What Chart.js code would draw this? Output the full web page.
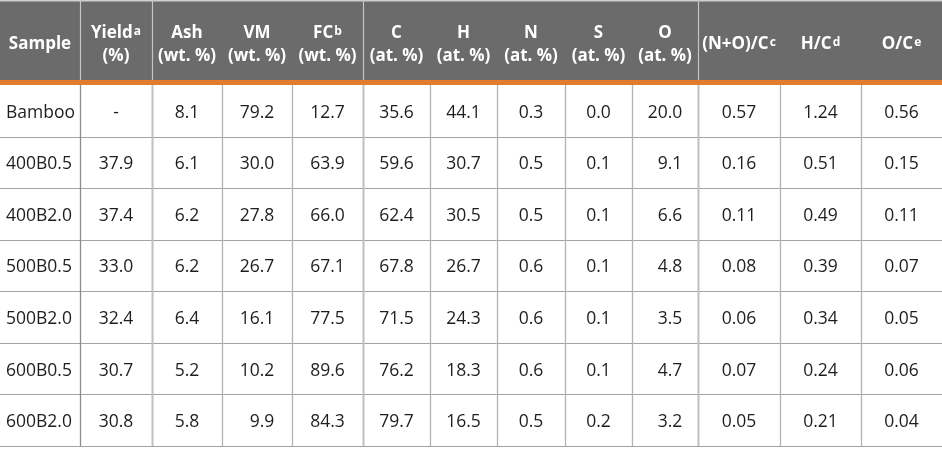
<!DOCTYPE html>
<html>
<head>
<meta charset="utf-8">
<script src="https://cdn.jsdelivr.net/npm/chart.js@4.4.1/dist/chart.umd.min.js"></script>
<style>
  html, body { margin: 0; padding: 0; background: #ffffff; }
  #wrap { width: 942px; height: 461px; position: relative; }
</style>
</head>
<body>
<div id="wrap"><canvas id="tableChart"></canvas></div>
<script>
// table data
const samples   = ['Bamboo', '400B0.5', '400B2.0', '500B0.5', '500B2.0', '600B0.5', '600B2.0'];
const yieldPct  = [null, 37.9, 37.4, 33.0, 32.4, 30.7, 30.8];
const ash       = [8.1, 6.1, 6.2, 6.2, 6.4, 5.2, 5.8];
const vm        = [79.2, 30.0, 27.8, 26.7, 16.1, 10.2, 9.9];
const fc        = [12.7, 63.9, 66.0, 67.1, 77.5, 89.6, 84.3];
const carbon    = [35.6, 59.6, 62.4, 67.8, 71.5, 76.2, 79.7];
const hydrogen  = [44.1, 30.7, 30.5, 26.7, 24.3, 18.3, 16.5];
const nitrogen  = [0.3, 0.5, 0.5, 0.6, 0.6, 0.6, 0.5];
const sulfur    = [0.0, 0.1, 0.1, 0.1, 0.1, 0.1, 0.2];
const oxygen    = [20.0, 9.1, 6.6, 4.8, 3.5, 4.7, 3.2];
const nPlusOtoC = [0.57, 0.16, 0.11, 0.08, 0.06, 0.07, 0.05];
const hToC      = [1.24, 0.51, 0.49, 0.39, 0.34, 0.24, 0.21];
const oToC      = [0.56, 0.15, 0.11, 0.07, 0.05, 0.06, 0.04];

// column headers
const headerTitles = ['Sample', 'Yield', 'Ash', 'VM', 'FC', 'C', 'H', 'N', 'S', 'O', '(N+O)/C', 'H/C', 'O/C'];
const headerUnits  = ['', '(%)', '(wt. %)', '(wt. %)', '(wt. %)', '(at. %)', '(at. %)', '(at. %)', '(at. %)', '(at. %)', '', '', ''];
const headerSups   = ['', 'a', '', '', 'b', '', '', '', '', '', 'c', 'd', 'e'];

// layout
const colWidths = [80, 72, 70, 70, 71, 67, 67, 68, 67, 66, 82, 81, 81];
const groupEdges = [1, 2, 5, 10];
const HEADER_H = 80;
const ORANGE_H = 5;

const valueCols = [
  { values: yieldPct, digits: 1 },
  { values: ash, digits: 1 },
  { values: vm, digits: 1 },
  { values: fc, digits: 1 },
  { values: carbon, digits: 1 },
  { values: hydrogen, digits: 1 },
  { values: nitrogen, digits: 1 },
  { values: sulfur, digits: 1 },
  { values: oxygen, digits: 1 },
  { values: nPlusOtoC, digits: 2 },
  { values: hToC, digits: 2 },
  { values: oToC, digits: 2 }
];

const colEdges = [0];
colWidths.forEach(w => colEdges.push(colEdges[colEdges.length - 1] + w));

const FONT = '"Open Sans", "Noto Sans", sans-serif';

const tablePlugin = {
  id: 'tablePlugin',
  afterDraw(chart) {
    const c = chart.ctx;
    const xs = chart.scales.x;
    const ys = chart.scales.y;
    const xAt = i => xs.getPixelForValue(colEdges[i]);
    const band = (ys.bottom - ys.top) / samples.length;
    const rowMid = i => ys.getPixelForValue(i);
    const left = xAt(0);
    const full = xAt(colEdges.length - 1) - left;

    c.save();

    // header block
    c.fillStyle = '#6b6b6b';
    c.fillRect(left, 0, full, HEADER_H);
    c.fillStyle = '#cfcfcf';
    c.fillRect(left, 0, full, 1.5);
    c.fillStyle = '#e27b2e';
    c.fillRect(left, HEADER_H, full, ORANGE_H);

    c.strokeStyle = '#c4c4c4';
    c.lineWidth = 1.2;
    groupEdges.forEach(i => {
      const x = Math.round(xAt(i)) + 0.5;
      c.beginPath();
      c.moveTo(x, 0);
      c.lineTo(x, HEADER_H);
      c.stroke();
    });

    // header text
    c.fillStyle = '#ffffff';
    c.textBaseline = 'alphabetic';
    c.textAlign = 'left';
    headerTitles.forEach((t, i) => {
      const cx = (xAt(i) + xAt(i + 1)) / 2;
      const twoLine = headerUnits[i] !== '';
      const y1 = twoLine ? 38 : 49;
      c.font = 'bold 17px ' + FONT;
      const wMain = c.measureText(t).width;
      c.font = 'bold 12px ' + FONT;
      const wSup = headerSups[i] ? c.measureText(headerSups[i]).width + 1 : 0;
      const x0 = cx - (wMain + wSup) / 2;
      c.font = 'bold 17px ' + FONT;
      c.fillText(t, x0, y1);
      if (headerSups[i]) {
        c.font = 'bold 12px ' + FONT;
        c.fillText(headerSups[i], x0 + wMain + 1, y1 - 3);
      }
      if (twoLine) {
        c.font = 'bold 17px ' + FONT;
        c.textAlign = 'center';
        c.fillText(headerUnits[i], cx, 61);
        c.textAlign = 'left';
      }
    });

    // grid lines
    c.strokeStyle = '#a3a3a3';
    c.lineWidth = 1.2;
    for (let r = 0; r < samples.length; r++) {
      const y = Math.round(rowMid(r) + band / 2) + 0.5;
      c.beginPath();
      c.moveTo(left, y);
      c.lineTo(left + full, y);
      c.stroke();
    }
    for (let i = 1; i < colEdges.length - 1; i++) {
      const x = Math.round(xAt(i)) + 0.5;
      const isGroup = groupEdges.includes(i) && i !== 1;
      c.strokeStyle = isGroup ? '#c0c0c0' : (i === 1 ? '#8c8c8c' : '#b3b3b3');
      c.lineWidth = isGroup ? 2 : 1.3;
      c.beginPath();
      c.moveTo(x, ys.top);
      c.lineTo(x, ys.bottom);
      c.stroke();
    }

    // body text
    c.fillStyle = '#1e1e1e';
    c.font = '17.5px ' + FONT;
    c.textBaseline = 'middle';
    samples.forEach((s, r) => {
      c.textAlign = 'left';
      c.fillText(s, left + 6, rowMid(r) + 2);
    });
    valueCols.forEach((col, k) => {
      const i = k + 1;
      const cx = (xAt(i) + xAt(i + 1)) / 2;
      const texts = col.values.map(v => v === null ? '-' : v.toFixed(col.digits));
      const maxW = Math.max(...texts.map(t => c.measureText(t).width));
      texts.forEach((t, r) => {
        if (t === '-') {
          c.textAlign = 'center';
          c.fillText(t, cx, rowMid(r) + 2);
        } else {
          c.textAlign = 'right';
          c.fillText(t, cx + maxW / 2, rowMid(r) + 2);
        }
      });
    });

    c.restore();
  }
};

new Chart(document.getElementById('tableChart'), {
  type: 'scatter',
  data: { datasets: [] },
  options: {
    responsive: true,
    maintainAspectRatio: false,
    animation: false,
    events: [],
    layout: {
      padding: { top: HEADER_H + ORANGE_H, bottom: 15, left: 0, right: 0 }
    },
    plugins: {
      legend: { display: false },
      tooltip: { enabled: false }
    },
    scales: {
      x: {
        type: 'linear',
        min: 0,
        max: colEdges[colEdges.length - 1],
        display: false
      },
      y: {
        type: 'category',
        labels: samples,
        offset: true,
        display: false
      }
    }
  },
  plugins: [tablePlugin]
});
</script>
</body>
</html>
